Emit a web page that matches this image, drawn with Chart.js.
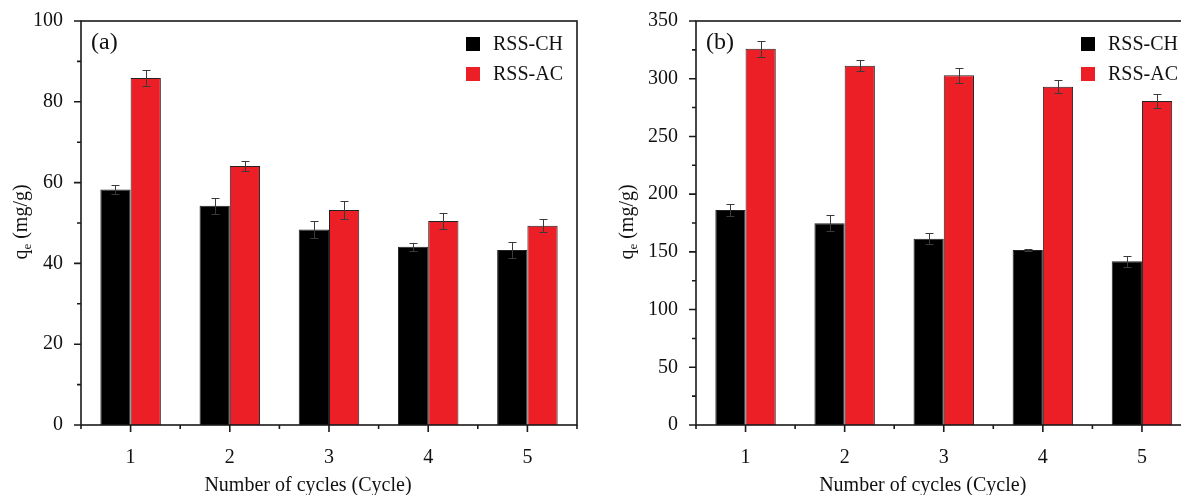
<!DOCTYPE html>
<html>
<head>
<meta charset="utf-8">
<script src="https://cdn.jsdelivr.net/npm/chart.js@4.4.1/dist/chart.umd.min.js"></script>
<style>
  html, body { margin: 0; padding: 0; background: #fff; overflow: hidden; width: 1181px; height: 495px; }
  canvas { position: absolute; top: 0; }
  #chartA { left: 0; }
  #chartB { left: 590px; }
</style>
</head>
<body>
<canvas id="chartA" width="590" height="495"></canvas>
<canvas id="chartB" width="620" height="495"></canvas>
<script>
// cycles on the x axis
const cycles = ['1', '2', '3', '4', '5'];
const seriesNames = ['RSS-CH', 'RSS-AC'];

// panel (a)
const chA = [58.3, 54.3, 48.4, 44.1, 43.3];
const chAErr = [1.1, 2.0, 2.0, 1.0, 1.9];
const acA = [85.9, 64.1, 53.2, 50.5, 49.3];
const acAErr = [2.0, 1.2, 2.3, 1.9, 1.6];
const ticksA = [0, 20, 40, 60, 80, 100];

// panel (b)
const chB = [186.3, 174.7, 161.4, 151.6, 141.8];
const chBErr = [5.0, 7.0, 4.6, 1.2, 4.6];
const acB = [326.0, 311.3, 303.0, 293.1, 280.7];
const acBErr = [7.0, 4.6, 6.6, 5.8, 6.3];
const ticksB = [0, 50, 100, 150, 200, 250, 300, 350];

const FONT = '"Liberation Serif", "Times New Roman", serif';
const colors = ['#000000', '#ec1f27'];

// error bars, frame, minor ticks, legend, titles
const decor = {
    id: 'decor',
    afterDatasetsDraw(chart, args, opts) {
        const ctx = chart.ctx;
        const y = chart.scales.y;
        const x = chart.scales.x;
        const area = chart.chartArea;

        // error bars
        ctx.save();
        ctx.strokeStyle = '#3a3a3a';
        ctx.lineWidth = 1;
        chart.data.datasets.forEach((ds, i) => {
            const meta = chart.getDatasetMeta(i);
            meta.data.forEach((bar, j) => {
                const v = ds.data[j];
                const e = ds.errors[j];
                const yt = Math.round(y.getPixelForValue(v + e)) + 0.5;
                const yb = Math.round(y.getPixelForValue(v - e)) + 0.5;
                const cx = Math.round(bar.x) + 0.5;
                ctx.beginPath();
                ctx.moveTo(cx, yt); ctx.lineTo(cx, yb);
                ctx.moveTo(cx - 4, yt); ctx.lineTo(cx + 4, yt);
                ctx.moveTo(cx - 4, yb); ctx.lineTo(cx + 4, yb);
                ctx.stroke();
            });
        });
        ctx.restore();

        // frame
        ctx.save();
        ctx.strokeStyle = '#1a1a1a';
        ctx.lineWidth = 1.6;
        ctx.strokeRect(area.left, area.top, area.right - area.left, area.bottom - area.top);

        // y ticks (major + minor)
        const step = opts.yTicks[1] - opts.yTicks[0];
        ctx.beginPath();
        opts.yTicks.forEach((t, k) => {
            const py = y.getPixelForValue(t);
            ctx.moveTo(area.left, py); ctx.lineTo(area.left - 7, py);
            if (k < opts.yTicks.length - 1) {
                const pm = y.getPixelForValue(t + step / 2);
                ctx.moveTo(area.left, pm); ctx.lineTo(area.left - 4, pm);
            }
        });
        // x ticks
        for (let k = 0; k < cycles.length; k++) {
            const px = x.getPixelForValue(k);
            ctx.moveTo(px, area.bottom); ctx.lineTo(px, area.bottom + 7);
        }
        for (let k = 0; k <= cycles.length; k++) {
            const px = x.getPixelForValue(k - 0.5);
            ctx.moveTo(px, area.bottom); ctx.lineTo(px, area.bottom + 4);
        }
        ctx.stroke();
        ctx.restore();

        // panel label
        ctx.save();
        ctx.fillStyle = '#111';
        ctx.font = '24px ' + FONT;
        ctx.textBaseline = 'middle';
        ctx.fillText(opts.label, area.left + 10, 43);

        // legend
        ctx.font = '20px ' + FONT;
        chart.data.datasets.forEach((ds, i) => {
            const ly = 44 + i * 30;
            ctx.fillStyle = ds.backgroundColor;
            ctx.fillRect(area.left + 385, ly - 7, 14, 14);
            ctx.fillStyle = '#111';
            ctx.fillText(ds.label, area.left + 412, ly + 1);
        });

        // x title
        ctx.textAlign = 'center';
        ctx.font = '20px ' + FONT;
        ctx.fillText('Number of cycles (Cycle)', (area.left + area.right) / 2 - 21, 486);

        // y title, q with subscript e
        ctx.translate(opts.yTitleX, 222);
        ctx.rotate(-Math.PI / 2);
        ctx.textAlign = 'left';
        const big = '20px ' + FONT, small = '13px ' + FONT;
        ctx.font = big;
        const wq = ctx.measureText('q').width;
        const rest = ' (mg/g)';
        const wr = ctx.measureText(rest).width;
        ctx.font = small;
        const we = ctx.measureText('e').width;
        let sx = -(wq + we + wr) / 2;
        ctx.font = big;
        ctx.fillText('q', sx, 0);
        ctx.font = small;
        ctx.fillText('e', sx + wq, 6);
        ctx.font = big;
        ctx.fillText(rest, sx + wq + we, 0);
        ctx.restore();
    }
};

function makeChart(id, ch, chErr, ac, acErr, yTicks, opts) {
    const ctx = document.getElementById(id).getContext('2d');
    return new Chart(ctx, {
        type: 'bar',
        data: {
            labels: cycles,
            datasets: [
                {
                    label: seriesNames[0],
                    data: ch,
                    errors: chErr,
                    backgroundColor: colors[0],
                    borderColor: '#222',
                    borderWidth: 1
                },
                {
                    label: seriesNames[1],
                    data: ac,
                    errors: acErr,
                    backgroundColor: colors[1],
                    borderColor: '#222',
                    borderWidth: 1
                }
            ]
        },
        options: {
            responsive: false,
            animation: false,
            devicePixelRatio: 1,
            categoryPercentage: 0.61,
            barPercentage: 1.0,
            layout: {
                padding: { top: 21, right: opts.rightPad, left: 0, bottom: 0 }
            },
            scales: {
                x: {
                    grid: { display: false },
                    border: { display: false },
                    ticks: {
                        color: '#111',
                        padding: 13,
                        font: { family: FONT, size: 20 }
                    },
                    afterFit(scale) {
                        scale.height = 70;
                        scale.paddingLeft = 0;
                        scale.paddingRight = 0;
                    }
                },
                y: {
                    min: yTicks[0],
                    max: yTicks[yTicks.length - 1],
                    grid: { display: false },
                    border: { display: false },
                    ticks: {
                        stepSize: yTicks[1] - yTicks[0],
                        color: '#111',
                        padding: 10,
                        font: { family: FONT, size: 20 }
                    },
                    afterFit(scale) {
                        scale.width = opts.yWidth;
                        scale.paddingTop = 0;
                        scale.paddingBottom = 0;
                    }
                }
            },
            plugins: {
                legend: { display: false },
                tooltip: { enabled: false },
                decor: {
                    label: opts.label,
                    yTicks: yTicks,
                    yTitleX: opts.yTitleX
                }
            }
        },
        plugins: [decor]
    });
}

makeChart('chartA', chA, chAErr, acA, acAErr, ticksA,
    { label: '(a)', yWidth: 81, rightPad: 13, yTitleX: 22 });
makeChart('chartB', chB, chBErr, acB, acBErr, ticksB,
    { label: '(b)', yWidth: 106, rightPad: 18.5, yTitleX: 38 });
</script>
</body>
</html>
